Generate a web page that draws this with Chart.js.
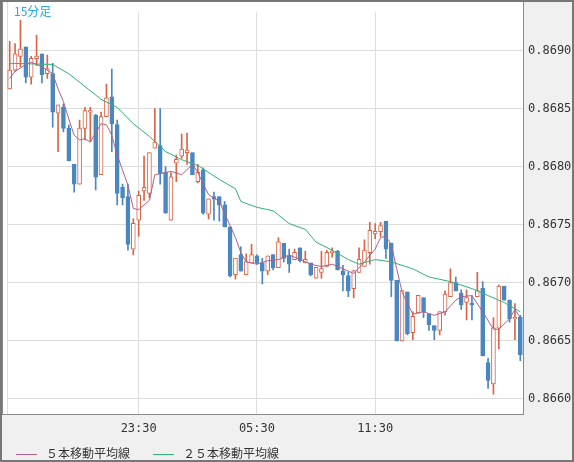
<!DOCTYPE html>
<html>
<head>
<meta charset="utf-8">
<script src="https://cdn.jsdelivr.net/npm/chart.js@4.4.1/dist/chart.umd.min.js"></script>
<style>
  html, body { margin: 0; padding: 0; background: #f0f0f0; }
  #wrap { position: relative; width: 574px; height: 462px; }
  #title { position: absolute; left: 14px; top: 2px; font: 12px "Noto Sans CJK JP", sans-serif; color: #2aa8e0; }
  .legend { position: absolute; top: 444px; font: 12px "Noto Sans CJK JP", sans-serif; color: #333; }
  .legend span { display: inline-block; width: 21px; height: 0; border-top: 1px solid; vertical-align: middle; margin-right: 9px; }
</style>
</head>
<body>
<div id="wrap">
  <canvas id="chart" width="574" height="462"></canvas>
  <div id="title">15分足</div>
  <div class="legend" style="left:16px"><span style="border-color:#b0608a"></span>５本移動平均線</div>
  <div class="legend" style="left:153px"><span style="border-color:#2db37a"></span>２５本移動平均線</div>
</div>
<script>
const opens = [0.86867,0.86883,0.86895,0.86903,0.86877,0.86893,0.86897,0.86880,0.86880,0.86846,0.86851,0.86833,0.86802,0.86785,0.86833,0.86847,0.86844,0.86793,0.86843,0.86860,
  0.86836,0.86782,0.86774,0.86729,0.86754,0.86779,0.86777,0.86816,0.86818,0.86795,0.86754,0.86803,0.86809,0.86812,0.86812,0.86787,0.86797,0.86759,0.86774,0.86774,
  0.86767,0.86748,0.86707,0.86724,0.86707,0.86717,0.86723,0.86717,0.86710,0.86724,0.86713,0.86734,0.86723,0.86720,0.86730,0.86717,0.86717,0.86704,0.86709,0.86714,
  0.86726,0.86727,0.86710,0.86706,0.86695,0.86709,0.86714,0.86726,0.86742,0.86744,0.86753,0.86734,0.86702,0.86650,0.86692,0.86657,0.86674,0.86687,0.86673,0.86663,
  0.86659,0.86675,0.86688,0.86700,0.86691,0.86683,0.86682,0.86688,0.86695,0.86631,0.86613,0.86661,0.86697,0.86685,0.86669,0.86670];
const highs = [0.86908,0.86906,0.86926,0.86903,0.86895,0.86913,0.86897,0.86896,0.86889,0.86853,0.86854,0.86836,0.86802,0.86840,0.86851,0.86851,0.86845,0.86847,0.86871,0.86884,
  0.86840,0.86785,0.86785,0.86755,0.86779,0.86809,0.86812,0.86850,0.86850,0.86800,0.86795,0.86810,0.86828,0.86829,0.86812,0.86802,0.86799,0.86772,0.86778,0.86774,
  0.86770,0.86748,0.86721,0.86731,0.86725,0.86733,0.86724,0.86721,0.86723,0.86724,0.86739,0.86734,0.86729,0.86729,0.86730,0.86727,0.86717,0.86713,0.86727,0.86728,
  0.86730,0.86728,0.86715,0.86709,0.86711,0.86730,0.86737,0.86752,0.86751,0.86752,0.86753,0.86734,0.86702,0.86693,0.86692,0.86675,0.86689,0.86687,0.86673,0.86663,
  0.86675,0.86693,0.86712,0.86705,0.86694,0.86694,0.86689,0.86709,0.86701,0.86635,0.86670,0.86698,0.86697,0.86685,0.86682,0.86672];
const lows = [0.86867,0.86882,0.86886,0.86872,0.86871,0.86887,0.86872,0.86876,0.86834,0.86813,0.86830,0.86805,0.86778,0.86785,0.86823,0.86822,0.86780,0.86793,0.86843,0.86813,
  0.86767,0.86767,0.86728,0.86724,0.86740,0.86771,0.86773,0.86816,0.86785,0.86760,0.86754,0.86787,0.86807,0.86802,0.86793,0.86786,0.86759,0.86755,0.86754,0.86753,
  0.86748,0.86705,0.86703,0.86710,0.86707,0.86717,0.86716,0.86699,0.86707,0.86711,0.86713,0.86718,0.86709,0.86720,0.86718,0.86717,0.86706,0.86704,0.86704,0.86714,
  0.86722,0.86711,0.86693,0.86688,0.86687,0.86709,0.86714,0.86716,0.86738,0.86740,0.86721,0.86688,0.86650,0.86650,0.86655,0.86651,0.86674,0.86670,0.86659,0.86651,
  0.86655,0.86672,0.86688,0.86693,0.86677,0.86668,0.86668,0.86688,0.86637,0.86609,0.86604,0.86643,0.86685,0.86666,0.86651,0.86633];
const closes = [0.86883,0.86897,0.86901,0.86877,0.86893,0.86895,0.86879,0.86884,0.86847,0.86853,0.86833,0.86805,0.86785,0.86833,0.86848,0.86848,0.86791,0.86843,0.86859,0.86837,
  0.86777,0.86773,0.86733,0.86751,0.86775,0.86782,0.86812,0.86821,0.86794,0.86760,0.86791,0.86806,0.86815,0.86814,0.86793,0.86795,0.86760,0.86772,0.86772,0.86767,
  0.86748,0.86706,0.86721,0.86710,0.86718,0.86724,0.86717,0.86710,0.86723,0.86713,0.86735,0.86721,0.86716,0.86726,0.86719,0.86720,0.86707,0.86713,0.86712,0.86726,
  0.86727,0.86711,0.86707,0.86693,0.86710,0.86720,0.86728,0.86745,0.86744,0.86749,0.86729,0.86702,0.86650,0.86693,0.86656,0.86671,0.86689,0.86675,0.86664,0.86659,
  0.86675,0.86690,0.86700,0.86693,0.86681,0.86687,0.86681,0.86693,0.86637,0.86616,0.86661,0.86697,0.86685,0.86669,0.86670,0.86638];

// moving averages at some candles (lines join the gaps)
const ma5Index = [0,1,3,4,6,8,9,10,11,12,13,14,15,17,18,19,20,22,23,24,26,27,29,30,32,34,35,36,37,39,42,43,44,46,48,50,52,54,56,58,60,62,64,66,68,69,70,71,72,73,75,77,79,81,83,84,86,88,90,91,93,94,95];
const ma5Value = [0.86876,0.86882,0.86888,0.86890,0.86886,0.86880,0.86867,0.86856,0.86841,0.86827,0.86823,0.86824,0.86821,0.86837,0.86836,0.86827,0.86810,0.86784,0.86764,0.86763,0.86771,0.86793,0.86795,0.86796,0.86793,0.86802,0.86795,0.86785,0.86776,0.86770,0.86739,0.86726,0.86718,0.86716,0.86719,0.86720,0.86724,0.86720,0.86716,0.86714,0.86716,0.86712,0.86708,0.86718,0.86729,0.86739,0.86740,0.86733,0.86712,0.86692,0.86673,0.86675,0.86672,0.86675,0.86685,0.86688,0.86689,0.86675,0.86660,0.86660,0.86669,0.86677,0.86670];
const ma25Index = [0,8,11,14,17,20,23,26,29,32,35,39,42,43,46,49,52,55,57,60,63,65,68,71,75,78,82,86,89,92,95];
const ma25Value = [0.86889,0.86888,0.86880,0.86869,0.86858,0.86851,0.86837,0.86826,0.86813,0.86806,0.86801,0.86789,0.86781,0.86770,0.86765,0.86762,0.86751,0.86746,0.86735,0.86728,0.86720,0.86716,0.86720,0.86718,0.86712,0.86705,0.86701,0.86695,0.86689,0.86683,0.86675];

const timeTicks = {24: '23:30', 46: '05:30', 68: '11:30'};
const priceTicks = [0.8660, 0.8665, 0.8670, 0.8675, 0.8680, 0.8685, 0.8690];

const UP = '#dc6446';
const DOWN = '#4a87c0';

const labels = closes.map((c, i) => String(i));
const isUp = closes.map((c, i) => c >= opens[i]);

function spread(idx, vals) {
    const out = closes.map(() => null);
    idx.forEach((k, j) => { out[k] = vals[j]; });
    return out;
}

const frame = {
    id: 'frame',
    beforeDraw(chart) {
        const { ctx, chartArea: a } = chart;
        ctx.save();
        ctx.fillStyle = '#f0f0f0';
        ctx.fillRect(0, 0, 574, 462);
        ctx.fillStyle = '#fff';
        ctx.fillRect(2, 0, a.right - 2, a.bottom);
        ctx.strokeStyle = '#dddddd';
        ctx.beginPath(); ctx.moveTo(a.left + 0.5, 0); ctx.lineTo(a.left + 0.5, a.bottom); ctx.stroke();
        ctx.restore();
    },
    afterDraw(chart) {
        const { ctx, chartArea: a } = chart;
        ctx.save();
        ctx.strokeStyle = '#8a8a8a';
        ctx.lineWidth = 1;
        ctx.strokeRect(2.5, 0.5, a.right - 2, a.bottom);
        ctx.strokeStyle = '#777';
        ctx.lineWidth = 2;
        ctx.strokeRect(1, 1, 572, 460);
        ctx.restore();
    }
};

new Chart(document.getElementById('chart'), {
    type: 'bar',
    data: {
        labels,
        datasets: [
            {
                type: 'line',
                label: '５本移動平均線',
                data: spread(ma5Index, ma5Value),
                borderColor: '#b0608a',
                borderWidth: 1,
                pointRadius: 0,
                spanGaps: true,
                order: 0
            },
            {
                type: 'line',
                label: '２５本移動平均線',
                data: spread(ma25Index, ma25Value),
                borderColor: '#2db37a',
                borderWidth: 1,
                pointRadius: 0,
                spanGaps: true,
                order: 1
            },
            {
                label: 'body',
                data: opens.map((o, i) => [Math.min(o, closes[i]), Math.max(o, closes[i]) + 0.000002]),
                backgroundColor: isUp.map(u => u ? '#ffffff' : DOWN),
                borderColor: isUp.map(u => u ? UP : DOWN),
                borderWidth: 1,
                borderSkipped: false,
                barThickness: 4,
                grouped: false,
                order: 2
            },
            {
                label: 'wick',
                data: lows.map((l, i) => [l, highs[i]]),
                backgroundColor: isUp.map(u => u ? UP : DOWN),
                borderWidth: 0,
                barThickness: 1,
                grouped: false,
                order: 3
            }
        ]
    },
    options: {
        responsive: false,
        animation: false,
        layout: { padding: { left: 7, top: 0, right: 0, bottom: 0 } },
        plugins: {
            legend: { display: false },
            tooltip: { enabled: false }
        },
        scales: {
            x: {
                grid: {
                    offset: false,
                    drawTicks: false,
                    color: ctx => timeTicks[ctx.index] ? '#dddddd' : 'rgba(0,0,0,0)'
                },
                border: { display: false },
                ticks: {
                    autoSkip: false,
                    maxRotation: 0,
                    padding: 8,
                    color: '#333',
                    font: { family: 'DejaVu Sans Mono', size: 12 },
                    callback: (v, i) => timeTicks[i] || ''
                },
                afterFit: scale => { scale.height = 48; }
            },
            y: {
                position: 'right',
                min: 0.86587,
                max: 0.86933,
                afterBuildTicks: scale => { scale.ticks = priceTicks.map(v => ({ value: v })); },
                grid: { color: '#dddddd', drawTicks: false },
                border: { display: false },
                ticks: {
                    padding: 5,
                    color: '#333',
                    font: { family: 'DejaVu Sans Mono', size: 12 },
                    callback: v => v.toFixed(4)
                },
                afterFit: scale => { scale.width = 51; }
            }
        }
    },
    plugins: [frame]
});
</script>
</body>
</html>
